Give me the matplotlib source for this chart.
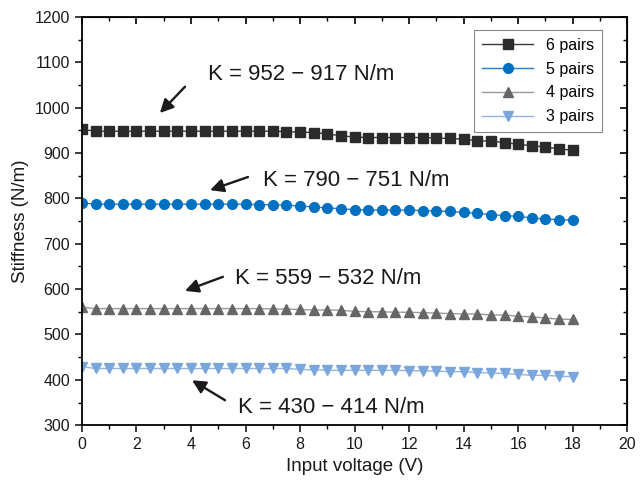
import numpy as np
import matplotlib.pyplot as plt
from matplotlib.ticker import MultipleLocator

plt.rcParams['font.family'] = ['Liberation Sans', 'DejaVu Sans']

voltage = np.arange(0, 18.01, 0.5)

pairs6 = [952, 948, 948, 948, 948, 948, 948, 948, 948, 948, 948, 948, 948, 948,
          948, 947, 946, 945, 942, 938, 935, 934, 934, 934, 934, 934, 933, 932,
          930, 927, 926, 923, 919, 916, 913, 909, 906]
pairs5 = [790, 787, 787, 787, 787, 787, 787, 787, 787, 787, 787, 787, 787, 786,
          786, 785, 783, 781, 779, 777, 775, 774, 774, 774, 774, 773, 772, 771,
          769, 767, 764, 762, 760, 757, 754, 753, 752]
pairs4 = [560, 557, 557, 557, 557, 557, 557, 557, 557, 557, 557, 557, 557, 557,
          556, 556, 555, 554, 554, 553, 551, 550, 550, 549, 549, 548, 547, 546,
          545, 545, 543, 543, 540, 539, 536, 534, 533]
pairs3 = [429, 425, 425, 425, 425, 425, 425, 425, 425, 425, 425, 425, 425, 425,
          425, 425, 423, 422, 421, 421, 421, 421, 421, 421, 420, 420, 419, 418,
          418, 416, 415, 414, 412, 410, 410, 408, 407]

labels = ['6 pairs', '5 pairs', '4 pairs', '3 pairs']
k_texts = ['K = 952 − 917 N/m', 'K = 790 − 751 N/m',
           'K = 559 − 532 N/m', 'K = 430 − 414 N/m']

fig = plt.figure(figsize=(6.4, 4.95), dpi=100)
ax = fig.add_axes([0.128, 0.141, 0.852, 0.825])

ax.plot(voltage, pairs6, '-s', color='#3a3a3a', mfc='#2b2b2b', mec='#2b2b2b',
        ms=6.5, lw=1, label=labels[0])
ax.plot(voltage, pairs5, '-o', color='#2a7fc8', mfc='#0070c0', mec='#0070c0',
        ms=7, lw=1, label=labels[1])
ax.plot(voltage, pairs4, '-^', color='#9a9a9a', mfc='#666666', mec='#666666',
        ms=7.5, lw=1, label=labels[2])
ax.plot(voltage, pairs3, '-v', color='#8fb4e3', mfc='#7aa6dc', mec='#7aa6dc',
        ms=7.5, lw=1, label=labels[3])

# annotations: (text pos, arrow tail, arrow head)
ann = [((4.62, 1072), (3.78, 1046), (2.86, 988)),
       ((6.64, 840), (6.09, 847), (4.70, 818)),
       ((5.61, 624), (5.17, 627), (3.78, 596)),
       ((5.72, 338), (5.25, 355), (4.04, 399))]
for txt, (tpos, tail, head) in zip(k_texts, ann):
    ax.text(tpos[0], tpos[1], txt, fontsize=16, va='center', ha='left', color='#1a1a1a')
    ax.annotate('', xy=head, xytext=tail,
                arrowprops=dict(arrowstyle='-|>', color='#1a1a1a', lw=1.7,
                                mutation_scale=20, shrinkA=0, shrinkB=0))

ax.set_xlim(0, 20)
ax.set_ylim(300, 1200)
ax.xaxis.set_major_locator(MultipleLocator(2))
ax.xaxis.set_minor_locator(MultipleLocator(1))
ax.yaxis.set_major_locator(MultipleLocator(100))
ax.yaxis.set_minor_locator(MultipleLocator(50))
ax.tick_params(which='major', direction='out', length=5, width=1.2, labelsize=11.5,
               colors='#1a1a1a')
ax.tick_params(which='minor', direction='out', length=3, width=1)
for s in ax.spines.values():
    s.set_linewidth(1.3)

top = ax.secondary_xaxis('top')
top.xaxis.set_major_locator(MultipleLocator(2))
top.xaxis.set_minor_locator(MultipleLocator(1))
top.tick_params(which='major', direction='in', length=5, width=1.2, labeltop=False)
top.tick_params(which='minor', direction='in', length=3, width=1)
right = ax.secondary_yaxis('right')
right.yaxis.set_major_locator(MultipleLocator(100))
right.yaxis.set_minor_locator(MultipleLocator(50))
right.tick_params(which='major', direction='in', length=5, width=1.2, labelright=False)
right.tick_params(which='minor', direction='in', length=3, width=1)

ax.set_xlabel('Input voltage (V)', fontsize=13.5, color='#1a1a1a')
ax.set_ylabel('Stiffness (N/m)', fontsize=13.5, color='#1a1a1a')

leg = ax.legend(loc='upper right', bbox_to_anchor=(0.954, 0.968), borderaxespad=0,
                fontsize=11.5, fancybox=False, edgecolor='#888888', framealpha=1,
                handlelength=3.2, borderpad=0.5, labelspacing=0.55)
leg.get_frame().set_linewidth(0.8)

fig.savefig('out.png', dpi=100)
